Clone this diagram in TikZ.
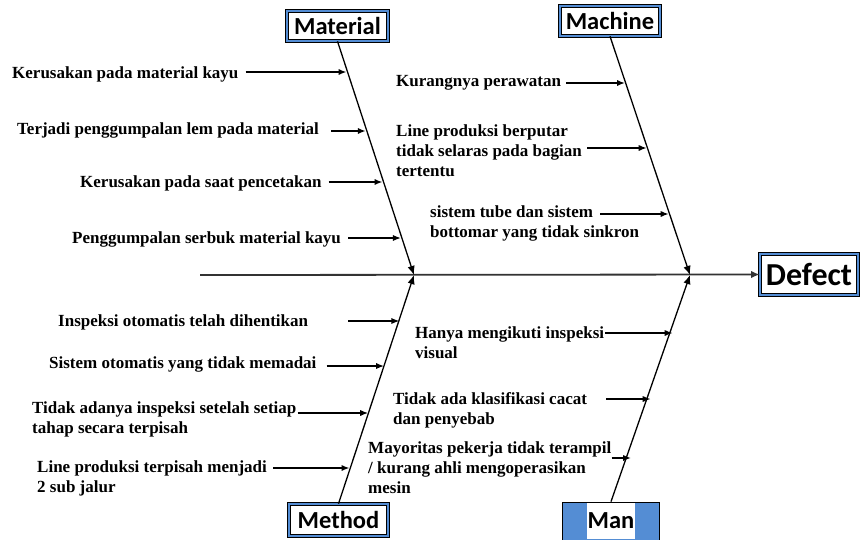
\documentclass[tikz,border=0pt]{standalone}
\usepackage{fontspec}
\setmainfont{Liberation Serif}
\newfontfamily\boxfont{Carlito}
\usepackage{tikz}
\usetikzlibrary{arrows.meta}
\definecolor{boxblue}{RGB}{84,141,212}

\begin{document}
\begin{tikzpicture}[
  x=1pt, y=-1pt,
  cat/.style={draw=black, line width=0.6pt, double=boxblue, double distance=2.4pt, fill=white, inner sep=0pt, font=\boxfont\fontsize{24.5}{26}\selectfont\bfseries},
  cause/.style={anchor=base west, align=left, inner sep=0pt, font=\fontsize{17}{20}\selectfont\bfseries},
  bone/.style={-{Latex[length=3.2mm, width=2.6mm]}, line width=1.3pt},
  sub/.style={-{Latex[length=2.8mm, width=2.2mm]}, line width=1.5pt},
  spine/.style={-{Latex[length=3mm, width=2.6mm]}, line width=1.8pt, black!80}
]
\useasboundingbox (0,0) rectangle (862,539);

\node[cat, minimum width=101pt, minimum height=30pt] (material) at (337.5,26) {Material};
\node[cat, minimum width=100pt, minimum height=30pt] (machine) at (610,21) {Machine};
\node[cat, minimum width=99pt, minimum height=32pt] (method) at (338.5,520) {Method};
\node[draw=black, line width=0.8pt, fill=boxblue, minimum width=97pt, minimum height=38pt] (man) at (611,521) {};
\node[fill=white, inner sep=0pt, minimum width=48pt, minimum height=36pt, font=\boxfont\fontsize{24.5}{26}\selectfont\bfseries] (manlabel) at (man) {Man};
\node[cat, minimum width=98pt, minimum height=41pt, font=\boxfont\fontsize{32}{34}\selectfont\bfseries] (defect) at (809,274.5) {Defect};

\coordinate (tail) at (200,275);
\coordinate (jleft) at (414,275);
\coordinate (jright) at (690,275);

\draw[spine] (tail) -- (defect.west);
\draw[bone] (material.south) -- (jleft);
\draw[bone] (method.north) -- (jleft);
\draw[bone] (machine.south) -- (jright);
\draw[bone] (man.north) -- (jright);

\node[cause] (m1) at (12,78) {Kerusakan pada material kayu};
\node[cause] (m2) at (17,134) {Terjadi penggumpalan lem pada material};
\node[cause] (m3) at (80,187) {Kerusakan pada saat pencetakan};
\node[cause] (m4) at (72,243) {Penggumpalan serbuk material kayu};
\coordinate (bm1) at (346.5,72);
\coordinate (bm2) at (365.8,131);
\coordinate (bm3) at (382.5,182);
\coordinate (bm4) at (400.9,238);
\draw[sub] ([xshift=7pt]m1.east |- bm1) -- (bm1);
\draw[sub] ([xshift=12pt]m2.east |- bm2) -- (bm2);
\draw[sub] ([xshift=7pt]m3.east |- bm3) -- (bm3);
\draw[sub] ([xshift=7pt]m4.east |- bm4) -- (bm4);

\node[cause] (c1) at (396,86) {Kurangnya perawatan};
\node[cause] (c2) at (396,176) {Line produksi berputar\\tidak selaras pada bagian\\tertentu};
\node[cause] (c3) at (430,237) {sistem tube dan sistem\\bottomar yang tidak sinkron};
\coordinate (bc1) at (625,83);
\coordinate (bc2) at (646.7,148);
\coordinate (bc3) at (668.7,214);
\draw[sub] ([xshift=5pt]c1.east |- bc1) -- (bc1);
\draw[sub] ([xshift=5pt]c2.east |- bc2) -- (bc2);
\draw[sub] ([xshift=-39pt]c3.east |- bc3) -- (bc3);

\node[cause] (d1) at (58,326) {Inspeksi otomatis telah dihentikan};
\node[cause] (d2) at (49,368) {Sistem otomatis yang tidak memadai};
\node[cause] (d3) at (32,433) {Tidak adanya inspeksi setelah setiap\\tahap secara terpisah};
\node[cause] (d4) at (37,492) {Line produksi terpisah menjadi\\2 sub jalur};
\coordinate (bd1) at (399.4,321);
\coordinate (bd2) at (384.1,366);
\coordinate (bd3) at (368.2,413);
\coordinate (bd4) at (349.5,468);
\draw[sub] ([xshift=40pt]d1.east |- bd1) -- (bd1);
\draw[sub] ([xshift=10pt]d2.east |- bd2) -- (bd2);
\draw[sub] ([xshift=1pt]d3.east |- bd3) -- (bd3);
\draw[sub] ([xshift=6pt]d4.east |- bd4) -- (bd4);

\node[cause] (n1) at (415,358) {Hanya mengikuti inspeksi\\visual};
\node[cause] (n2) at (393,424) {Tidak ada klasifikasi cacat\\dan penyebab};
\node[cause] (n3) at (368,493) {Mayoritas pekerja tidak terampil\\/ kurang ahli mengoperasikan\\mesin};
\coordinate (bn1) at (672.7,333);
\coordinate (bn2) at (650.7,399);
\coordinate (bn3) at (631,458);
\draw[sub] ([xshift=1pt]n1.east |- bn1) -- (bn1);
\draw[sub] ([xshift=19pt]n2.east |- bn2) -- (bn2);
\draw[sub] (n3.east |- bn3) -- (bn3);
\end{tikzpicture}
\end{document}
